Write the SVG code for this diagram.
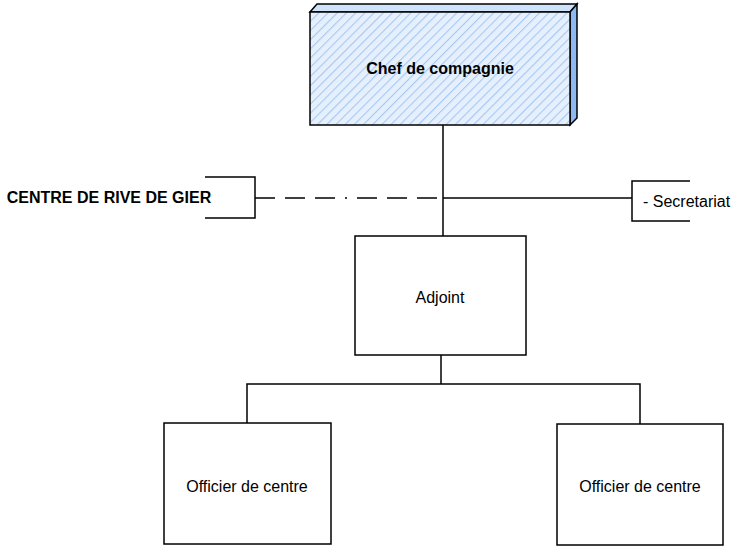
<svg xmlns="http://www.w3.org/2000/svg" width="742" height="548" viewBox="0 0 742 548">
<style>
.box{fill:#fff;stroke:#000;stroke-width:1.5}
.ln{fill:none;stroke:#000;stroke-width:1.5}
.t{font-family:"Liberation Sans",Arial,sans-serif;font-size:16px;fill:#000;text-anchor:middle}
.b{font-weight:bold}
</style>
<defs>
<pattern id="hatch" width="6.5" height="6.5" patternUnits="userSpaceOnUse" patternTransform="rotate(45)">
<rect width="6.5" height="6.5" fill="#e6f0fc"/>
<line x1="0" y1="0" x2="0" y2="6.5" stroke="#a6c8f4" stroke-width="2.2"/>
</pattern>
</defs>
<g id="connectors">
<line class="ln" x1="443" y1="125" x2="443" y2="236"/>
<line class="ln" x1="443" y1="198" x2="632" y2="198"/>
<line class="ln" x1="255" y1="198" x2="443" y2="198" stroke-dasharray="20 10 20 10 20 10 2 10"/>
<line class="ln" x1="441" y1="355" x2="441" y2="384"/>
<polyline class="ln" points="247,423 247,384 640,384 640,424"/>
</g>
<g id="chef">
<polygon points="310,12 317,4 577,4 570,12" fill="#cfe2fb" stroke="#000" stroke-width="1.5"/>
<polygon points="570,12 577,4 577,118 570,125" fill="#8db8f2" stroke="#000" stroke-width="1.5"/>
<rect x="310" y="12" width="260" height="113" fill="url(#hatch)" stroke="#000" stroke-width="1.5"/>
<text class="t b" x="440" y="74">Chef de compagnie</text>
</g>
<g id="centre">
<polyline class="ln" points="205,177 255,177 255,218 205,218"/>
<text class="t b" x="109" y="203">CENTRE DE RIVE DE GIER</text>
</g>
<g id="secretariat">
<polyline class="ln" points="690,181 632,181 632,221 690,221"/>
<text class="t" x="643" y="207" style="text-anchor:start">- Secretariat</text>
</g>
<g id="adjoint">
<rect class="box" x="355" y="236" width="171" height="119"/>
<text class="t" x="440" y="303">Adjoint</text>
</g>
<g id="officier1">
<rect class="box" x="164" y="423" width="167" height="121"/>
<text class="t" x="247" y="492">Officier de centre</text>
</g>
<g id="officier2">
<rect class="box" x="557" y="424" width="166" height="121"/>
<text class="t" x="640" y="492">Officier de centre</text>
</g>
</svg>
